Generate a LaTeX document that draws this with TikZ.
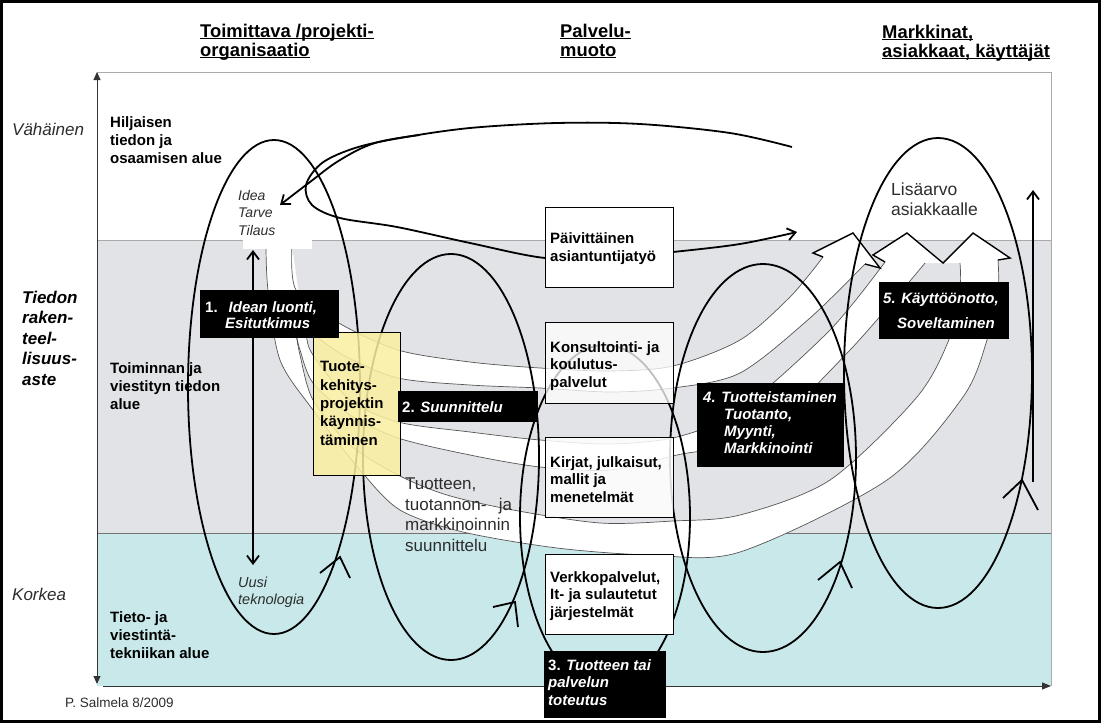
\documentclass[tikz,border=0pt]{standalone}
\usepackage{fontspec}
\setmainfont{Liberation Sans}
\usetikzlibrary{arrows.meta}
\definecolor{bandgray}{RGB}{225,227,230}
\definecolor{bandcyan}{RGB}{200,232,234}
\definecolor{boxyellow}{RGB}{250,239,160}
\definecolor{edgegray}{RGB}{85,85,85}
\definecolor{txtgray}{RGB}{45,45,45}
\definecolor{framegray}{RGB}{170,170,170}
\newcommand{\myul}[1]{\setbox0=\hbox{#1}\rlap{\rule[-2.4pt]{\wd0}{1.3pt}}\box0}
\begin{document}
\begin{tikzpicture}[x=1pt,y=-1pt,
  ell/.style={line width=1.8pt,black},
  fanedge/.style={line width=0.7pt,edgegray},
  fanhead/.style={line width=1.4pt,black,line join=miter},
  lbl/.style={anchor=base west,inner sep=0pt,align=left},
  fb/.style={font=\fontsize{15}{18}\selectfont\bfseries},
  fbb/.style={font=\fontsize{15}{17.5}\selectfont\bfseries},
  fbw/.style={font=\fontsize{15}{17.5}\selectfont\bfseries,text=white},
  hdr/.style={font=\fontsize{18.4}{19}\selectfont\bfseries},
  ax/.style={font=\fontsize{17}{20.5}\selectfont\itshape,text=txtgray},
  wbox/.style={draw=black,line width=1.3pt,fill=white,anchor=north west,inner sep=0pt},
  bbox/.style={draw=black,fill=black,anchor=north west,inner sep=0pt},
  barb/.style={-{Straight Barb[length=8pt,width=12pt]}},
]
\useasboundingbox (0,0) rectangle (1101,723);
\fill[white] (0,0) rectangle (1101,723);
% bands
\fill[bandgray] (97,240) rectangle (1051,533);
\fill[bandcyan] (97,533) rectangle (1051,686);
\draw[framegray,line width=1pt] (97,72) -- (1051,72) -- (1051,686);
\draw[framegray,line width=0.8pt] (97,240) -- (1051,240);
\draw[black!55,line width=0.8pt] (97,533) -- (1051,533);

% fan of white curved arrows
% strip 3 (outer)
\fill[white] plot[smooth,tension=.5] coordinates {(296,333)(300,355)(313,400)(350,445)(398,475)(447,495)(513,510)(600,523)(673,521)(740,515)(830,480)(917,397)(950,337)(960,290)(960,263)}
  -- (943,263) -- (973,233) -- (1010,258) -- (998,260)
  -- plot[smooth,tension=.5] coordinates {(998,260)(998,290)(987,340)(963,397)(887,480)(740,552)(650,555)(557,548)(463,532)(400,510)(360,470)(313,410)(280,360)(268,290)(266,246)}
  -- (292,246) -- (302,318) -- cycle;
% strip 2
\fill[white] plot[smooth,tension=.5] coordinates {(302,318)(306,335)(313,355)(350,400)(398,422)(470,432)(540,440)(610,444)(677,437)(740,410)(830,330)(885,262)}
  -- (873,255) -- (907,233) -- (943,263) -- (925,263)
  -- plot[smooth,tension=.5] coordinates {(925,263)(850,350)(760,435)(677,455)(610,470)(540,467)(470,455)(398,438)(350,415)(313,383)(300,350)(296,333)} -- cycle;
% strip 1
\fill[white] plot[smooth,tension=.5] coordinates {(292,246)(296,290)(337,322)(398,350)(470,362)(540,368)(610,371)(673,366)(740,340)(790,297)(823,257)}
  -- (813,253) -- (853,233) -- (880,268) -- (865,264)
  -- plot[smooth,tension=.5] coordinates {(865,264)(810,318)(740,373)(673,388)(610,392)(540,388)(470,385)(398,378)(345,356)(315,335)(302,318)} -- cycle;
% fan edges
\draw[fanedge] plot[smooth,tension=.5] coordinates {(296,333)(300,355)(313,400)(350,445)(398,475)(447,495)(513,510)(600,523)(673,521)(740,515)(830,480)(917,397)(950,337)(960,290)(960,263)};
\draw[fanedge] plot[smooth,tension=.5] coordinates {(998,260)(998,290)(987,340)(963,397)(887,480)(740,552)(650,555)(557,548)(463,532)(400,510)(360,470)(313,410)(280,360)(268,290)(266,246)};
\draw[fanedge] plot[smooth,tension=.5] coordinates {(302,318)(306,335)(313,355)(350,400)(398,422)(470,432)(540,440)(610,444)(677,437)(740,410)(830,330)(885,262)};
\draw[fanedge] plot[smooth,tension=.5] coordinates {(925,263)(850,350)(760,435)(677,455)(610,470)(540,467)(470,455)(398,438)(350,415)(313,383)(300,350)(296,333)};
\draw[fanedge] plot[smooth,tension=.5] coordinates {(292,246)(296,290)(337,322)(398,350)(470,362)(540,368)(610,371)(673,366)(740,340)(790,297)(823,257)};
\draw[fanedge] plot[smooth,tension=.5] coordinates {(865,264)(810,318)(740,373)(673,388)(610,392)(540,388)(470,385)(398,378)(345,356)(315,335)(302,318)};
\draw[fanhead] (823,257) -- (813,253) -- (853,233) -- (880,268) -- (865,264);
\draw[fanhead] (885,262) -- (873,255) -- (907,233) -- (943,263) -- (973,233) -- (1010,258) -- (998,260);
\fill[white] (243,226) rectangle (312,249);

% big loop and idea arrow
\draw[ell,barb] plot[smooth,tension=.55] coordinates {(792,147)(730,133)(640,124)(557,123)(470,128)(400,138)(355,148)(322,163)(306,185)(312,205)(340,218)(397,227)(470,243)(545,258)(610,258)(673,252)(740,244)(797,232)};
\draw[ell,barb] plot[smooth,tension=.6] coordinates {(420,135)(375,143)(340,160)(310,182)(280,205)};

% cycles
\draw[ell] (274,387) ellipse [x radius=86, y radius=247];
\draw[ell] (451,457) ellipse [x radius=88, y radius=203];
\draw[ell] (605,517) ellipse [x radius=85, y radius=172];
\draw[ell] (763,458) ellipse [x radius=93, y radius=194];
\draw[ell] (938,373) ellipse [x radius=94, y radius=235];
\draw[ell] (320,573) -- (340,557) -- (350,578);
\draw[ell] (493,607) -- (515,602) -- (518,627);
\draw[ell] (818,580) -- (840,562) -- (852,588);
\draw[ell] (1003,498) -- (1022,480) -- (1038,510);
\draw[ell,barb] (1033,482) -- (1033,190);
\draw[line width=1.8pt,{Straight Barb[length=8pt,width=12pt]}-{Straight Barb[length=8pt,width=12pt]}] (253,250) -- (253,565);

% axes
\draw[line width=1pt,black!80,{Triangle[length=8pt,width=7pt]}-{Triangle[length=8pt,width=7pt]}] (97,72) -- (97,684);
\draw[line width=1pt,black!80,-{Triangle[length=9pt,width=7pt]}] (103,686) -- (1051,686);

% boxes
\node[wbox,minimum width=128,minimum height=80] (pv) at (545,207) {};
\node[wbox,fill opacity=0.75,minimum width=128,minimum height=81] (ko) at (545,322) {};
\node[wbox,fill opacity=0.85,minimum width=128,minimum height=80] (ki) at (545,437) {};
\node[wbox,minimum width=128,minimum height=80] (ve) at (545,554) {};
\node[wbox,fill=boxyellow,fill opacity=0.85,minimum width=87,minimum height=143] (yl) at (313,332) {};
\node[bbox,minimum width=138,minimum height=47] (b1) at (200,290) {};
\node[bbox,minimum width=139,minimum height=30] (b2) at (398,391) {};
\node[bbox,minimum width=121,minimum height=66] (b3) at (544,651) {};
\node[bbox,minimum width=146,minimum height=83] (b4) at (697,383) {};
\node[bbox,minimum width=129,minimum height=56] (b5) at (879,282) {};

% frame
\draw[line width=3pt] (1.5,1.5) rectangle (1099.5,721.5);

% headers (anchor = baseline of last line)
\node[lbl,hdr] (h1) at (200,56) {\myul{Toimittava /projekti-}\\\myul{organisaatio}};
\node[lbl,hdr] (h2) at (560,56) {\myul{Palvelu-}\\\myul{muoto}};
\node[lbl,hdr] (h3) at (882,57) {\myul{Markkinat,}\\\myul{asiakkaat, käyttäjät}};

% axis labels
\node[lbl,ax] (a1) at (12,135) {Vähäinen};
\node[lbl,font=\fontsize{17}{20.5}\selectfont\bfseries\itshape] (a2) at (22,385) {Tiedon\\raken-\\teel-\\lisuus-\\aste};
\node[lbl,ax] (a3) at (12,600) {Korkea};

% region labels
\node[lbl,fb] (r1) at (110,163) {Hiljaisen\\tiedon ja\\osaamisen alue};
\node[lbl,fb] (r2) at (110,409) {Toiminnan ja\\viestityn tiedon\\alue};
\node[lbl,fb] (r3) at (110,658) {Tieto- ja\\viestintä-\\tekniikan alue};
\node[lbl,font=\fontsize{13.5}{16}\selectfont,text=txtgray] (sig) at (65,707) {P. Salmela 8/2009};

\node[lbl,font=\fontsize{14}{17.5}\selectfont\itshape,text=txtgray] (idea) at (238,235) {Idea\\Tarve\\Tilaus};
\node[lbl,font=\fontsize{14.5}{17}\selectfont\itshape,text=txtgray] (uusi) at (238,604) {Uusi\\teknologia};
\node[lbl,font=\fontsize{17}{20.5}\selectfont,text=txtgray] (tts) at (405,551) {Tuotteen,\\\hbox to 107pt{tuotannon-\hfill ja}\\markkinoinnin\\suunnittelu};
\node[lbl,font=\fontsize{17.5}{20}\selectfont,text=txtgray] (lis) at (891,215) {Lisäarvo\\asiakkaalle};

% box texts
\node[lbl,fbb] (tpv) at (550,261) {Päivittäinen\\asiantuntijatyö};
\node[lbl,fbb] (tko) at (550,387) {Konsultointi- ja\\koulutus-\\palvelut};
\node[lbl,fbb] (tki) at (550,502) {Kirjat, julkaisut,\\mallit ja\\menetelmät};
\node[lbl,fbb] (tve) at (550,617) {Verkkopalvelut,\\It- ja sulautetut\\järjestelmät};
\node[lbl,font=\fontsize{15}{18.3}\selectfont\bfseries] (tyl) at (320,445) {Tuote-\\kehitys-\\projektin\\käynnis-\\täminen};
\node[lbl,fbw,font=\fontsize{15}{16.5}\selectfont\bfseries] (tb1) at (205,328.5) {1.\hspace{11pt}\textit{Idean luonti,}\\\hspace*{20pt}\textit{Esitutkimus}};
\node[lbl,fbw] (tb2) at (402,412) {2. \textit{Suunnittelu}};
\node[lbl,fbw] (tb3) at (548,705) {3. \textit{Tuotteen tai}\\\textit{palvelun}\\\textit{toteutus}};
\node[lbl,fbw,font=\fontsize{15}{17}\selectfont\bfseries\itshape] (tb4) at (703,453) {4. Tuotteistaminen\\\hspace*{21pt}Tuotanto,\\\hspace*{21pt}Myynti,\\\hspace*{21pt}Markkinointi};
\node[lbl,fbw,font=\fontsize{15}{25}\selectfont\bfseries\itshape] (tb5) at (883,328) {5. Käyttöönotto,\\\hspace*{14pt}Soveltaminen};
\end{tikzpicture}
\end{document}
